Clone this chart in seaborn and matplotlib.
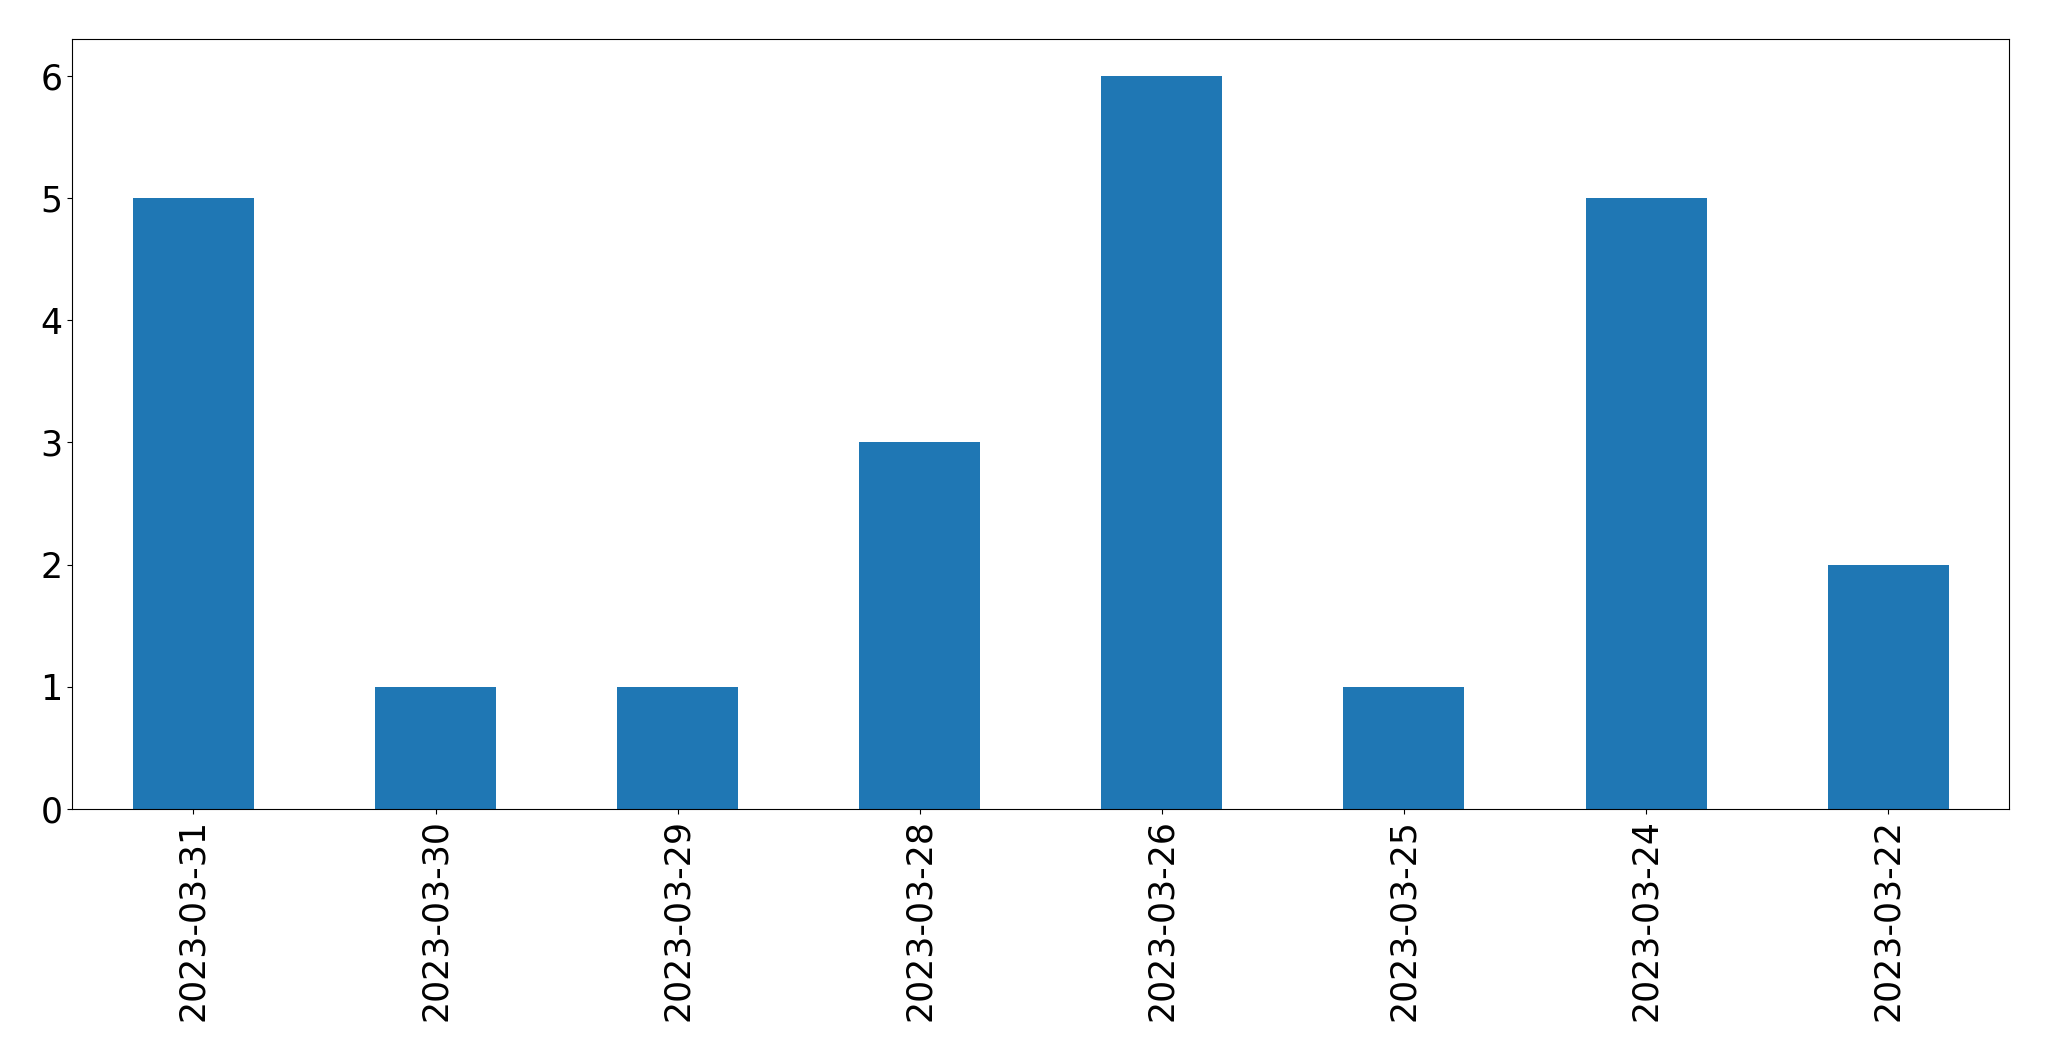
import matplotlib
matplotlib.use("Agg")
import matplotlib.pyplot as plt
import seaborn as sns
import pandas as pd

dates = ["2023-03-31", "2023-03-30", "2023-03-29", "2023-03-28",
         "2023-03-26", "2023-03-25", "2023-03-24", "2023-03-22"]
counts = [5, 1, 1, 3, 6, 1, 5, 2]

sns.set_style("ticks")
plt.rcParams['font.family'] = ['DejaVu Sans']

df = pd.DataFrame({"date": dates, "count": counts})

fig = plt.figure(figsize=(20.49, 10.61), dpi=100)
ax = fig.add_axes([0.0353, 0.2375, 0.9806 - 0.0353, 0.963 - 0.2375])
sns.barplot(data=df, x="date", y="count", order=dates, color="#1f77b4",
            saturation=1, width=0.5, linewidth=0, ax=ax)
ax.set_xlim(-0.5, len(dates) - 0.5)
ax.set_ylim(0, 6.3)
ax.set_xlabel("")
ax.set_ylabel("")
ax.tick_params(axis="both", labelsize=25, length=3.5, width=0.8, colors="black")
ax.tick_params(axis="x", rotation=90)
for s in ax.spines.values():
    s.set_visible(True)
    s.set_color("black")
    s.set_linewidth(0.8)
fig.savefig("out.png", dpi=100)
